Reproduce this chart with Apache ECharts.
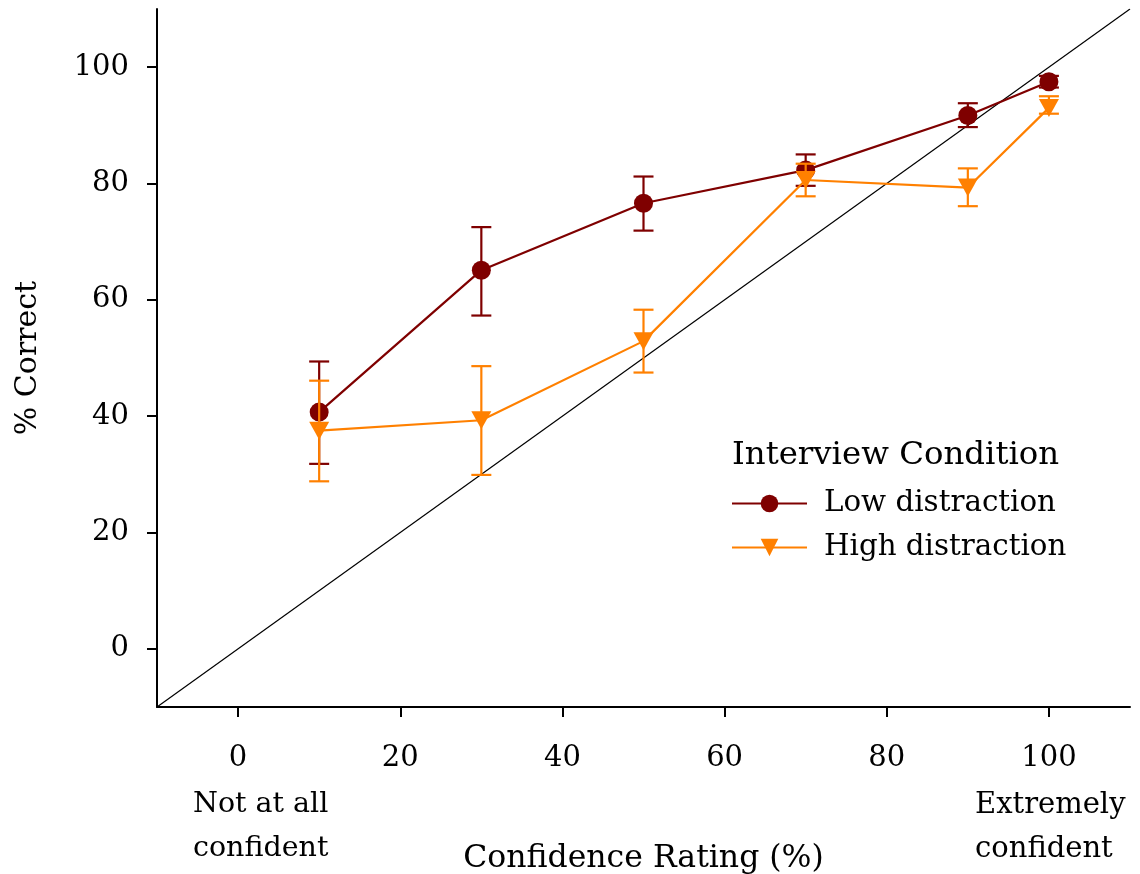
<!DOCTYPE html>
<html>
<head>
<meta charset="utf-8">
<script src="https://cdn.jsdelivr.net/npm/echarts@6/dist/echarts.min.js"></script>
<style>html,body{margin:0;padding:0;background:#fff}#c{width:1140px;height:874px}</style>
</head>
<body>
<div id="c"></div>
<script>
var confidence = [10, 30, 50, 70, 90, 100];
var lowMean = [40.7, 65.1, 76.6, 82.3, 91.7, 97.5];
var lowUpper = [49.4, 72.5, 81.2, 85.0, 93.8, 98.5];
var lowLower = [31.8, 57.3, 71.9, 79.6, 89.7, 96.5];
var highMean = [37.5, 39.3, 52.9, 80.6, 79.3, 93.0];
var highUpper = [46.1, 48.6, 58.3, 83.4, 82.6, 95.0];
var highLower = [28.8, 29.9, 47.5, 77.8, 76.1, 92.0];
var tickValues = [0, 20, 40, 60, 80, 100];
var diagonal = [[-10, -10], [110, 110]];

var FONT = 'DejaVu Serif';
var RED = '#7f0000';
var ORANGE = '#ff8000';

function pairs(xs, ys) { return xs.map(function (x, i) { return [x, ys[i]]; }); }
function errData(xs, lo, hi) { return xs.map(function (x, i) { return [x, lo[i], hi[i]]; }); }
function errRender(color) {
  return function (params, api) {
    var x = api.value(0);
    var lo = api.coord([x, api.value(1)]);
    var hi = api.coord([x, api.value(2)]);
    var cap = 10;
    var st = { stroke: color, lineWidth: 2.2 };
    return {
      type: 'group',
      children: [
        { type: 'line', shape: { x1: lo[0], y1: lo[1], x2: hi[0], y2: hi[1] }, style: st },
        { type: 'line', shape: { x1: lo[0] - cap, y1: lo[1], x2: lo[0] + cap, y2: lo[1] }, style: st },
        { type: 'line', shape: { x1: hi[0] - cap, y1: hi[1], x2: hi[0] + cap, y2: hi[1] }, style: st }
      ]
    };
  };
}

var chart = echarts.init(document.getElementById('c'), null, { renderer: 'canvas' });
var tickText = { fontFamily: FONT, fontSize: 29, color: '#000' };
chart.setOption({
  animation: false,
  backgroundColor: '#fff',
  textStyle: { fontFamily: FONT },
  grid: { left: 157, top: 9, width: 973, height: 698, containLabel: false, outerBoundsMode: 'none' },
  xAxis: {
    type: 'value', min: -10, max: 110,
    name: 'Confidence Rating (%)', nameLocation: 'middle', nameGap: 136,
    nameTextStyle: { fontFamily: FONT, fontSize: 31.5, color: '#000' },
    axisLine: { onZero: false, lineStyle: { color: '#000', width: 2 } },
    axisTick: { show: true, length: 10, lineStyle: { color: '#000', width: 2 }, customValues: tickValues },
    axisLabel: Object.assign({ margin: 37, customValues: tickValues }, tickText),
    splitLine: { show: false }
  },
  yAxis: {
    type: 'value', min: -10, max: 110,
    name: '% Correct', nameLocation: 'middle', nameGap: 114, nameRotate: 90,
    nameTextStyle: { fontFamily: FONT, fontSize: 30, color: '#000' },
    axisLine: { onZero: false, lineStyle: { color: '#000', width: 2 } },
    axisTick: { show: true, length: 10, lineStyle: { color: '#000', width: 2 }, customValues: tickValues },
    axisLabel: Object.assign({ margin: 28, customValues: tickValues }, tickText),
    splitLine: { show: false }
  },
  title: {
    text: 'Interview Condition', left: 727, top: 435,
    textStyle: { fontFamily: FONT, fontSize: 32.4, fontWeight: 'normal', color: '#000' }
  },
  legend: {
    left: 726, top: 484, orient: 'vertical', itemGap: 15,
    itemWidth: 75, itemHeight: 22,
    textStyle: { fontFamily: FONT, fontSize: 29.3, color: '#000', padding: [0, 0, 0, 12] },
    data: ['Low distraction', 'High distraction']
  },
  graphic: [
    { type: 'text', left: 193, top: 783, style: { text: 'Not at all\nconfident', font: '28.5px "DejaVu Serif"', fill: '#000', lineHeight: 44 } },
    { type: 'text', left: 975, top: 783, style: { text: 'Extremely\nconfident', font: '29px "DejaVu Serif"', fill: '#000', lineHeight: 44, align: 'left' } }
  ],
  series: [
    { type: 'line', name: 'diag', data: diagonal, symbol: 'none', silent: true,
      lineStyle: { color: '#000', width: 1.2 }, z: 1 },
    { type: 'custom', name: 'lowErr', data: errData(confidence, lowLower, lowUpper),
      renderItem: errRender(RED), z: 2, encode: { x: 0, y: [1, 2] } },
    { type: 'line', name: 'Low distraction', data: pairs(confidence, lowMean),
      symbol: 'circle', symbolSize: 19, color: RED,
      itemStyle: { color: RED }, lineStyle: { color: RED, width: 2.2 }, z: 3 },
    { type: 'custom', name: 'highErr', data: errData(confidence, highLower, highUpper),
      renderItem: errRender(ORANGE), z: 4, encode: { x: 0, y: [1, 2] } },
    { type: 'line', name: 'High distraction', data: pairs(confidence, highMean),
      symbol: 'triangle', symbolRotate: 180, symbolSize: [20, 18], color: ORANGE,
      itemStyle: { color: ORANGE }, lineStyle: { color: ORANGE, width: 2.2 }, z: 5 }
  ]
});
</script>
</body>
</html>
